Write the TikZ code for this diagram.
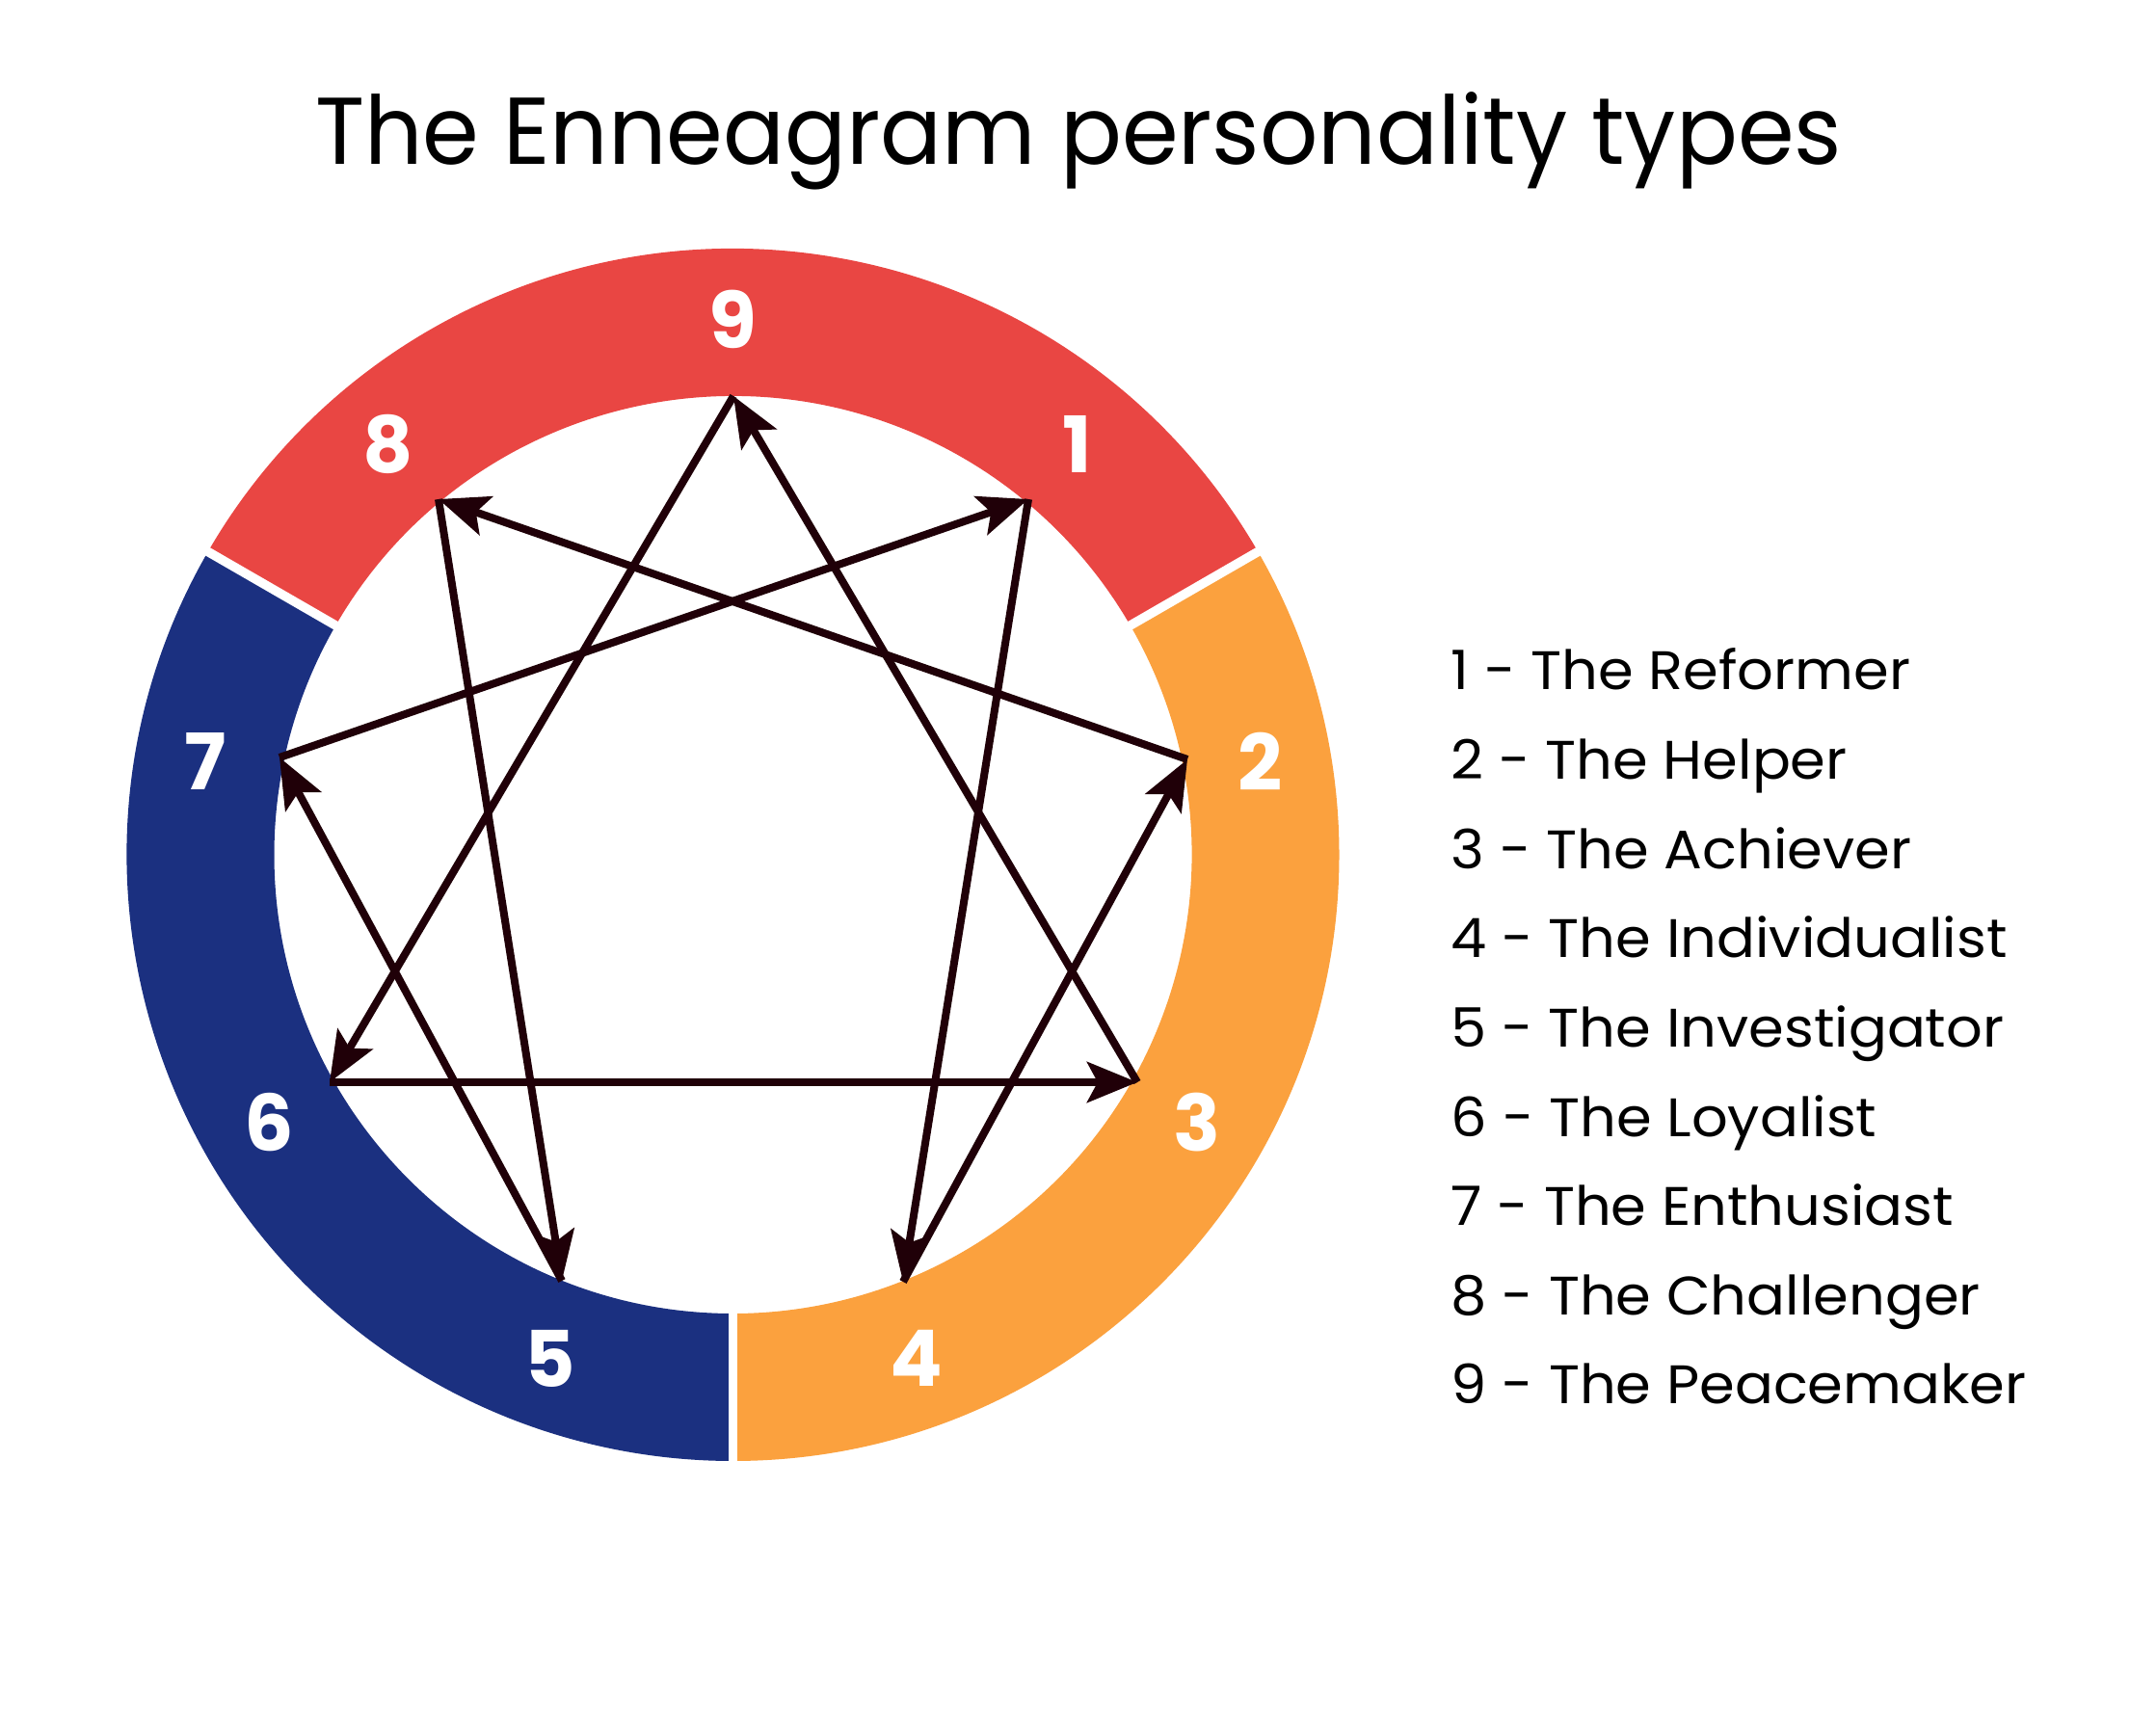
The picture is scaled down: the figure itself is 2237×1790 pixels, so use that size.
\documentclass[tikz,border=0pt]{standalone}
\usepackage{fontspec}
\setmainfont{Poppins}
\usetikzlibrary{arrows.meta}
\definecolor{ringred}{RGB}{233,70,67}
\definecolor{ringorange}{RGB}{251,161,62}
\definecolor{ringblue}{RGB}{27,48,128}
\definecolor{arrowdark}{RGB}{32,0,8}
\newcommand{\legtext}[1]{\scalebox{1.05}[1]{#1}}
\tikzset{
  arr/.style={draw=arrowdark, line width=0.08cm, line cap=butt,
    -{Stealth[length=0.52cm, width=0.42cm, inset=0.11cm]}},
  num/.style={text=white, font=\fontsize{23}{26}\selectfont\bfseries, inner sep=0pt},
  legend/.style={anchor=base west, inner sep=0pt, font=\fontsize{16}{19}\selectfont},
  titletext/.style={anchor=base, inner sep=0pt, font=\fontsize{28}{32}\selectfont},
  gap/.style={draw=white, line width=0.095cm}
}
\begin{document}
\begin{tikzpicture}[x=0.01cm, y=0.01cm]
\useasboundingbox[fill=white] (0,0) rectangle (2237,1790);

% title
\node[titletext] (title) at (1119,1619) {\scalebox{0.96}[1]{The Enneagram personality types}};

\begin{scope}[shift={(760.5,903)}]
  % ring segments
  \fill[ringred] (30:629) arc[start angle=30, end angle=150, radius=629]
    -- (150:476) arc[start angle=150, end angle=30, radius=476] -- cycle;
  \fill[ringorange] (-90:629) arc[start angle=-90, end angle=30, radius=629]
    -- (30:476) arc[start angle=30, end angle=-90, radius=476] -- cycle;
  \fill[ringblue] (150:629) arc[start angle=150, end angle=270, radius=629]
    -- (270:476) arc[start angle=270, end angle=150, radius=476] -- cycle;
  \draw[gap] (30:460) -- (30:645);
  \draw[gap] (150:460) -- (150:645);
  \draw[gap] (270:460) -- (270:645);

  % number labels
  \node[num] (n9) at (90:556) {9};
  \node[num] (n1) at (50:556) {1};
  \node[num] (n2) at (10:556) {2};
  \node[num] (n3) at (-30:556) {3};
  \node[num] (n4) at (-70:556) {4};
  \node[num] (n5) at (-110:556) {5};
  \node[num] (n6) at (-150:556) {6};
  \node[num] (n7) at (170:556) {7};
  \node[num] (n8) at (130:556) {8};
\end{scope}

% vertices
\coordinate (p9) at (761,1379);
\coordinate (p1) at (1067,1272);
\coordinate (p2) at (1232,1002);
\coordinate (p3) at (1180,667);
\coordinate (p4) at (937,460);
\coordinate (p5) at (583,461);
\coordinate (p6) at (342,667);
\coordinate (p7) at (290,1004);
\coordinate (p8) at (455,1272);

% connectors
\draw[arr] (p1) -- (p4);
\draw[arr] (p4) -- (p2);
\draw[arr] (p2) -- (p8);
\draw[arr] (p8) -- (p5);
\draw[arr] (p5) -- (p7);
\draw[arr] (p7) -- (p1);
\draw[arr] (p9) -- (p6);
\draw[arr] (p6) -- (p3);
\draw[arr] (p3) -- (p9);

% legend
\node[legend] (l1) at (1505,1074.0) {\legtext{1 - The Reformer}};
\node[legend] (l2) at (1505,981.4) {\legtext{2 - The Helper}};
\node[legend] (l3) at (1505,888.8) {\legtext{3 - The Achiever}};
\node[legend] (l4) at (1505,796.2) {\legtext{4 - The Individualist}};
\node[legend] (l5) at (1505,703.6) {\legtext{5 - The Investigator}};
\node[legend] (l6) at (1505,611.0) {\legtext{6 - The Loyalist}};
\node[legend] (l7) at (1505,518.4) {\legtext{7 - The Enthusiast}};
\node[legend] (l8) at (1505,425.8) {\legtext{8 - The Challenger}};
\node[legend] (l9) at (1505,333.2) {\legtext{9 - The Peacemaker}};
\end{tikzpicture}
\end{document}
